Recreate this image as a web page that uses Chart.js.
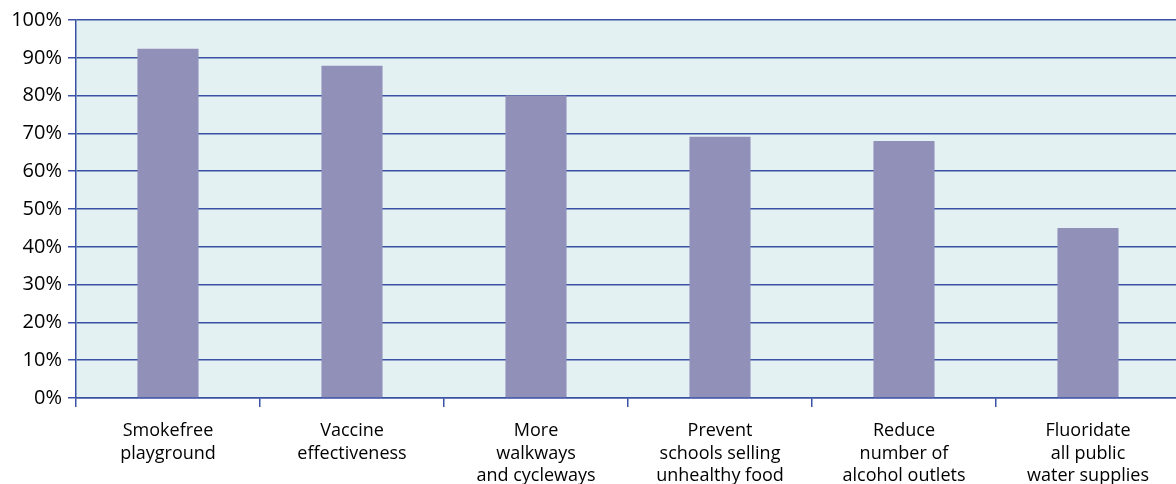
<!DOCTYPE html>
<html>
<head>
<meta charset="utf-8">
<script src="https://cdn.jsdelivr.net/npm/chart.js@4/dist/chart.umd.min.js"></script>
<style>
  html, body { margin: 0; padding: 0; background: #fff; overflow: hidden; }
  #wrap { width: 1180px; height: 484px; }
</style>
</head>
<body>
<div id="wrap"><canvas id="chart"></canvas></div>
<script>
// Data
const categories = [
    ['Smokefree', 'playground'],
    ['Vaccine', 'effectiveness'],
    ['More', 'walkways', 'and cycleways'],
    ['Prevent', 'schools selling', 'unhealthy food'],
    ['Reduce', 'number of', 'alcohol outlets'],
    ['Fluoridate', 'all public', 'water supplies']
];
const support = [92.4, 87.9, 80, 69.1, 68, 45];
const yTicks = [0, 10, 20, 30, 40, 50, 60, 70, 80, 90, 100];

const gridBlue = '#3a52a4';

// Fill the plot area with the pale background
const plotBackground = {
    id: 'plotBackground',
    beforeDraw(chart) {
        const { ctx, chartArea } = chart;
        ctx.save();
        ctx.fillStyle = '#e4f1f3';
        ctx.fillRect(chartArea.left, chartArea.top, chartArea.right - chartArea.left, chartArea.bottom - chartArea.top);
        ctx.restore();
    }
};

const ctx = document.querySelector('#chart').getContext('2d');
new Chart(ctx, {
    type: 'bar',
    data: {
        labels: categories,
        datasets: [{
            data: support,
            backgroundColor: '#9190b9',
            borderWidth: 0,
            categoryPercentage: 1,
            barPercentage: 0.332
        }]
    },
    options: {
        responsive: true,
        maintainAspectRatio: false,
        animation: false,
        layout: { padding: { top: 20, right: 0, left: 0, bottom: 0 } },
        plugins: {
            legend: { display: false },
            tooltip: { enabled: false }
        },
        scales: {
            x: {
                grid: {
                    drawOnChartArea: false,
                    color: gridBlue,
                    lineWidth: 1.5,
                    tickLength: 9
                },
                border: { color: gridBlue, width: 1.5 },
                ticks: {
                    color: '#000',
                    font: { family: 'Open Sans', size: 18, lineHeight: 1.25 },
                    padding: 13,
                    maxRotation: 0,
                    autoSkip: false
                },
                afterFit(scale) { scale.height = 86; }
            },
            y: {
                min: 0,
                max: 100,
                afterBuildTicks(scale) {
                    scale.ticks = yTicks.map(v => ({ value: v }));
                },
                grid: {
                    color: gridBlue,
                    lineWidth: 1.5,
                    tickLength: 8
                },
                border: { color: gridBlue, width: 1.5 },
                ticks: {
                    color: '#000',
                    font: { family: 'Open Sans', size: 20 },
                    padding: 6,
                    callback: v => v + '%'
                },
                afterFit(scale) { scale.width = 76; }
            }
        }
    },
    plugins: [plotBackground]
});
</script>
</body>
</html>
